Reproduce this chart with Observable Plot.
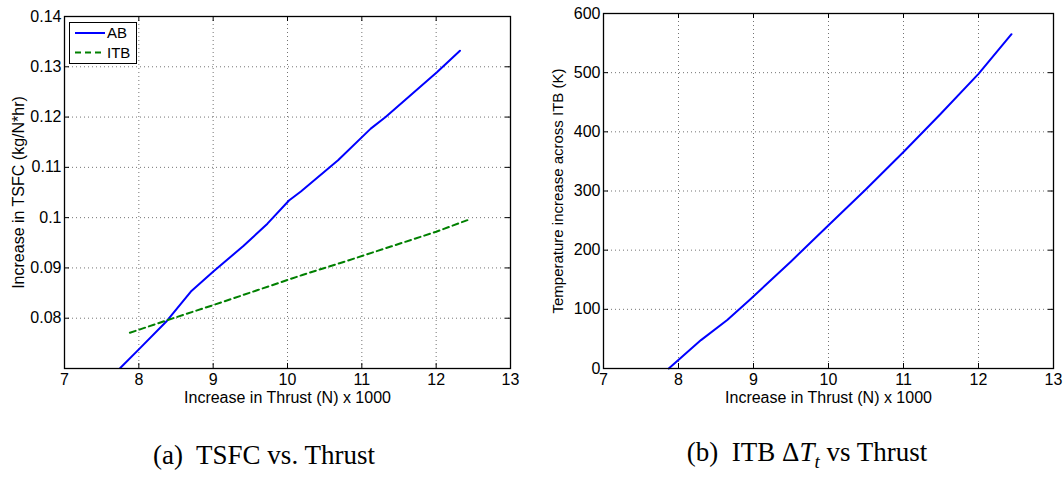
<!DOCTYPE html>
<html>
<head>
<meta charset="utf-8">
<script src="https://cdn.jsdelivr.net/npm/d3@7"></script>
<script src="https://cdn.jsdelivr.net/npm/@observablehq/plot@0.6"></script>
<style>
  body { margin: 0; background: #fff; }
  #wrap { position: relative; width: 1064px; height: 480px; background: #fff; overflow: hidden; }
  .panel { position: absolute; top: 0; }
  .caption { position: absolute; font-family: "Liberation Serif", "Times New Roman", serif; font-size: 27px; white-space: pre; transform: translate(-50%, -50%); color: #000; }
  .legend { position: absolute; left: 69px; top: 22px; width: 66px; height: 40px; border: 1px solid #000; background: #fff;
            font-family: "Liberation Sans", Arial, sans-serif; font-size: 15px; }
</style>
</head>
<body>
<div id="wrap"></div>
<script>
// ---- data ----
const thrustTicks = [7, 8, 9, 10, 11, 12, 13];
const tsfcTicks = [0.07, 0.08, 0.09, 0.10, 0.11, 0.12, 0.13, 0.14];
const dtTicks = [0, 100, 200, 300, 400, 500, 600];

const abThrust = [7.75, 8.0, 8.38, 8.70, 9.01, 9.41, 9.73, 10.02, 10.18, 10.68, 11.12, 11.32, 12.01, 12.32];
const abTsfc   = [0.0701, 0.0738, 0.0795, 0.0853, 0.0894, 0.0944, 0.0988, 0.1034, 0.1052, 0.1114, 0.1177, 0.1200, 0.1289, 0.1332];

const itbThrust = [7.88, 8.4, 9.0, 9.6, 10.2, 10.8, 11.4, 12.0, 12.42];
const itbTsfc   = [0.0771, 0.0797, 0.0826, 0.0856, 0.0886, 0.0914, 0.0943, 0.0972, 0.0995];

const dtThrust = [7.87, 8.3, 8.65, 8.94, 9.5, 10.0, 10.5, 11.0, 11.5, 12.0, 12.44];
const dtRise   = [0, 48, 82, 115, 181, 242, 303, 366, 431, 498, 565];

const xLabel = "Increase in Thrust (N) x 1000";
const yLabelA = "Increase in TSFC (kg/N*hr)";
const yLabelB = "Temperature increase across ITB (K)";

// ---- helpers ----
const ab = abThrust.map((x, i) => ({x, y: abTsfc[i]}));
const itb = itbThrust.map((x, i) => ({x, y: itbTsfc[i]}));
const dt = dtThrust.map((x, i) => ({x, y: dtRise[i]}));

const fontFamily = "Liberation Sans, Arial, Helvetica, sans-serif";
const gridStyle = {stroke: "#000", strokeOpacity: 0.55, strokeDasharray: "1,3", strokeWidth: 1};

function innerTicks(xDom, yDom, xt, yt, fx, fy) {
  // MATLAB-style inward ticks on all four sides, lengths as a fraction of the domain
  const lx = (xDom[1] - xDom[0]) * fx, ly = (yDom[1] - yDom[0]) * fy;
  const xi = xt.slice(1, -1), yi = yt.slice(1, -1);
  return [
    Plot.ruleX(xi, {x: d => d, y1: yDom[0], y2: yDom[0] + ly, stroke: "#000"}),
    Plot.ruleX(xi, {x: d => d, y1: yDom[1], y2: yDom[1] - ly, stroke: "#000"}),
    Plot.ruleY(yi, {y: d => d, x1: xDom[0], x2: xDom[0] + lx, stroke: "#000"}),
    Plot.ruleY(yi, {y: d => d, x1: xDom[1], x2: xDom[1] - lx, stroke: "#000"})
  ];
}

function panel({width, marginLeft, marginRight, marginTop, yDomain, yTicks, yFmt, series, yLabel, yLabelDx, yLabelSize}) {
  const xDomain = [7, 13];
  return Plot.plot({
    width, height: 410,
    marginLeft, marginRight, marginTop, marginBottom: 42,
    style: {fontFamily, fontSize: "16px", color: "#000", background: "#fff"},
    x: {domain: xDomain, ticks: thrustTicks},
    y: {domain: yDomain, ticks: yTicks},
    marks: [
      Plot.gridX(thrustTicks.slice(1, -1), gridStyle),
      Plot.gridY(yTicks.slice(1, -1), gridStyle),
      ...innerTicks(xDomain, yDomain, thrustTicks, yTicks, 5 / (width - marginLeft - marginRight), 5 / (368 - marginTop)),
      ...series,
      Plot.frame({stroke: "#000", strokeWidth: 1.3}),
      Plot.axisX(thrustTicks, {tickSize: 0, tickPadding: 5, label: null, fontSize: 16, tickFormat: d => String(d)}),
      Plot.axisY(yTicks, {tickSize: 0, tickPadding: 3, label: null, fontSize: 16, tickFormat: yFmt}),
      Plot.text([xLabel], {text: d => d, frameAnchor: "bottom", lineAnchor: "middle", textAnchor: "middle", dy: 29, fontSize: 16}),
      Plot.text([yLabel], {text: d => d, frameAnchor: "left", lineAnchor: "middle", textAnchor: "middle", rotate: -90, dx: yLabelDx, fontSize: yLabelSize})
    ]
  });
}

const wrap = document.getElementById("wrap");

const left = panel({
  width: 530, marginLeft: 64, marginRight: 20, marginTop: 16,
  yDomain: [0.07, 0.14], yTicks: tsfcTicks,
  yFmt: d => (Math.abs(d - 0.07) < 1e-9 ? "" : String(+d.toFixed(2))),
  series: [
    Plot.line(ab, {x: "x", y: "y", stroke: "#0000ff", strokeWidth: 2}),
    Plot.line(itb, {x: "x", y: "y", stroke: "#008000", strokeWidth: 2, strokeDasharray: "6,4"})
  ],
  yLabel: yLabelA, yLabelDx: -46, yLabelSize: 16
});
left.classList.add("panel");
left.style.left = "0px";
wrap.appendChild(left);

const right = panel({
  width: 532, marginLeft: 71, marginRight: 11, marginTop: 13,
  yDomain: [0, 600], yTicks: dtTicks,
  yFmt: d => String(d),
  series: [
    Plot.line(dt, {x: "x", y: "y", stroke: "#0000ff", strokeWidth: 2})
  ],
  yLabel: yLabelB, yLabelDx: -45, yLabelSize: 15
});
right.classList.add("panel");
right.style.left = "532px";
wrap.appendChild(right);

// legend
const legend = document.createElement("div");
legend.className = "legend";
legend.innerHTML = `
<svg width="66" height="40" style="position:absolute;left:0;top:0">
  <line x1="5" x2="35" y1="10" y2="10" stroke="#0000ff" stroke-width="2"/>
  <line x1="5" x2="35" y1="29.5" y2="29.5" stroke="#008000" stroke-width="2" stroke-dasharray="6,4"/>
  <text x="37" y="10" dy="0.35em" font-size="15" font-family="${fontFamily}">AB</text>
  <text x="37" y="29.5" dy="0.35em" font-size="15" font-family="${fontFamily}">ITB</text>
</svg>`;
wrap.appendChild(legend);

// captions
const capA = document.createElement("div");
capA.className = "caption";
capA.style.left = "264px"; capA.style.top = "455px";
capA.textContent = "(a)  TSFC vs. Thrust";
wrap.appendChild(capA);

const capB = document.createElement("div");
capB.className = "caption";
capB.style.left = "807px"; capB.style.top = "455px";
capB.innerHTML = "(b)  ITB Δ<i>T</i><sub style=\"font-size:0.7em\"><i>t</i></sub> vs Thrust";
wrap.appendChild(capB);
</script>
</body>
</html>
